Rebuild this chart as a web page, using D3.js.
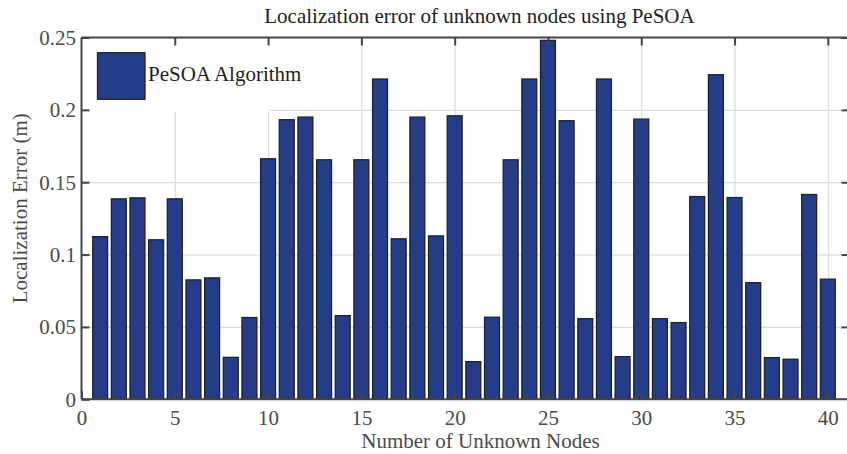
<!DOCTYPE html>
<html>
<head>
<meta charset="utf-8">
<script src="https://cdn.jsdelivr.net/npm/d3@7"></script>
<style>
  html, body { margin: 0; padding: 0; background: #fff; }
  svg { display: block; font-family: "Liberation Serif", "Times New Roman", serif; }
</style>
</head>
<body>
<svg id="chart" width="847" height="454"></svg>
<script>
// ---- data ----
const nodes = [1,2,3,4,5,6,7,8,9,10,11,12,13,14,15,16,17,18,19,20,
               21,22,23,24,25,26,27,28,29,30,31,32,33,34,35,36,37,38,39,40];
const errors = [0.1124,0.1385,0.1392,0.1102,0.1385,0.0825,0.0839,0.0290,0.0565,0.1662,
                0.1932,0.1950,0.1655,0.0578,0.1655,0.2213,0.1109,0.1950,0.1129,0.1959,
                0.0260,0.0567,0.1655,0.2213,0.2480,0.1925,0.0557,0.2213,0.0295,0.1936,
                0.0557,0.0530,0.1401,0.2243,0.1394,0.0806,0.0288,0.0277,0.1415,0.0830];
const xTicks = [0,5,10,15,20,25,30,35,40];
const yTicks = [0,0.05,0.1,0.15,0.2,0.25];
const yTickLabels = ["0","0.05","0.1","0.15","0.2","0.25"];
const seriesName = "PeSOA Algorithm";
const chartTitle = "Localization error of unknown nodes using PeSOA";
const xLabel = "Number of Unknown Nodes";
const yLabel = "Localization Error (m)";

// ---- layout ----
const L = 81.5, R = 846.5, T = 37.5, B = 399.3;
const barColor = "#243d89";
const edgeColor = "#222";
const axisColor = "#454545";
const gridColor = "#dcdcdc";
const textGray = "#4a4a4a";

const svg = d3.select("#chart");
const x = d3.scaleLinear().domain([0, 41]).range([L, R]);
const y = d3.scaleLinear().domain([0, 0.25]).range([B, T]);

// grid
svg.append("g").attr("class", "grid").attr("transform", `translate(0,${B})`)
  .call(d3.axisBottom(x).tickValues(xTicks.filter(v => v > 0)).tickSize(-(B - T)).tickFormat(""))
  .call(g => g.select(".domain").remove())
  .call(g => g.selectAll("line").attr("stroke", gridColor).attr("stroke-width", 1.2));
svg.append("g").attr("class", "grid").attr("transform", `translate(${L},0)`)
  .call(d3.axisLeft(y).tickValues(yTicks.filter(v => v > 0 && v < 0.25)).tickSize(-(R - L + 5)).tickFormat(""))
  .call(g => g.select(".domain").remove())
  .call(g => g.selectAll("line").attr("stroke", gridColor).attr("stroke-width", 1.2));

// legend background (covers grid)
svg.append("rect").attr("x", L + 0.5).attr("y", T + 0.5)
  .attr("width", 269 - L).attr("height", 111 - T).attr("fill", "#fff");

// bars
const bw = x(0.8) - x(0);
svg.append("g").selectAll("rect").data(nodes).join("rect")
  .attr("x", (d) => x(d) - bw / 2)
  .attr("y", (d, i) => y(errors[i]))
  .attr("width", bw)
  .attr("height", (d, i) => y(0) - y(errors[i]))
  .attr("fill", barColor)
  .attr("stroke", edgeColor)
  .attr("stroke-width", 1.3);

// axes
const axBottom = svg.append("g").attr("class", "ax").attr("transform", `translate(0,${B})`)
  .call(d3.axisBottom(x).tickValues(xTicks).tickSizeInner(-8).tickSizeOuter(0).tickFormat(d3.format("d")));
axBottom.select(".domain").attr("d", `M${L},0H${R + 5}`);
axBottom.selectAll("text").attr("y", 25.7).attr("dy", 0)
  .attr("font-size", 21).attr("fill", textGray).attr("font-family", "Liberation Serif");

const axLeft = svg.append("g").attr("class", "ax").attr("transform", `translate(${L},0)`)
  .call(d3.axisLeft(y).tickValues(yTicks).tickSizeInner(-8).tickSizeOuter(0)
    .tickFormat((d, i) => yTickLabels[i]));
axLeft.select(".domain").attr("d", `M0,${B}V${T}`);
axLeft.selectAll("text").attr("x", -5.5).attr("dy", "0.33em")
  .attr("font-size", 21).attr("fill", textGray).attr("font-family", "Liberation Serif");

const axTop = svg.append("g").attr("class", "ax").attr("transform", `translate(0,${T})`)
  .call(d3.axisTop(x).tickValues(xTicks.filter(v => v > 0)).tickSizeInner(-8).tickSizeOuter(0).tickFormat(""));
axTop.select(".domain").attr("d", `M${L},0H${R + 5}`);

const axRight = svg.append("g").attr("class", "ax").attr("transform", `translate(${R + 1},0)`)
  .call(d3.axisRight(y).tickValues(yTicks.filter(v => v > 0)).tickSizeInner(-6).tickSizeOuter(0).tickFormat(""));
axRight.select(".domain").remove();

svg.selectAll(".ax .domain").attr("stroke", axisColor).attr("stroke-width", 2);
svg.selectAll(".ax .tick line").attr("stroke", axisColor).attr("stroke-width", 2);

// legend
svg.append("rect").attr("x", 97.5).attr("y", 52.7).attr("width", 47.5).attr("height", 46.6)
  .attr("fill", barColor).attr("stroke", edgeColor).attr("stroke-width", 1.3);
svg.append("text").attr("x", 148).attr("y", 80.7).attr("font-size", 21).attr("fill", "#1e1e1e")
  .text(seriesName);

// title & labels
svg.append("text").attr("x", 479.5).attr("y", 22.7).attr("text-anchor", "middle")
  .attr("font-size", 21).attr("fill", "#1e1e1e").text(chartTitle);
svg.append("text").attr("x", 480.5).attr("y", 448).attr("text-anchor", "middle")
  .attr("font-size", 21).attr("fill", textGray).text(xLabel);
svg.append("text").attr("transform", "translate(26.5,303.3) rotate(-90)")
  .attr("text-anchor", "start").attr("font-size", 21).attr("fill", textGray).text(yLabel);
</script>
</body>
</html>
